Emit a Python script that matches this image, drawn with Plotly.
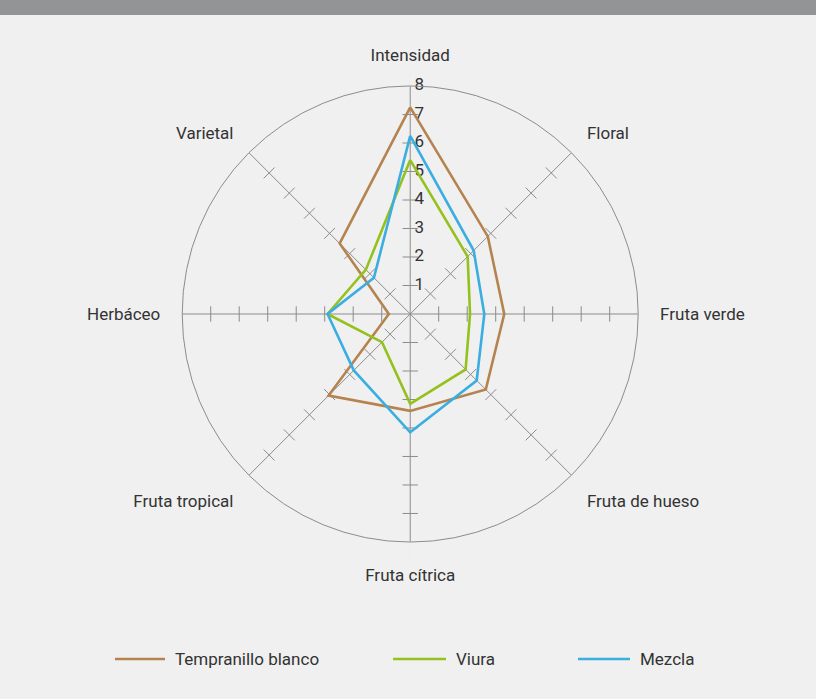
import plotly.graph_objects as go

axes = ["Intensidad", "Floral", "Fruta verde", "Fruta de hueso",
        "Fruta cítrica", "Fruta tropical", "Herbáceo", "Varietal"]
tempranillo = [7.25, 3.85, 3.3, 3.75, 3.4, 4.05, 0.75, 3.5]
viura = [5.4, 2.85, 2.1, 2.75, 3.15, 1.4, 2.9, 2.2]
mezcla = [6.25, 3.15, 2.6, 3.3, 4.15, 2.8, 2.9, 1.8]
tick_steps = [1, 2, 3, 4, 5, 6, 7]
scale_labels = [1, 2, 3, 4, 5, 6, 7, 8]

series = [("Tempranillo blanco", tempranillo, "#b5834f"),
          ("Viura", viura, "#95c11f"),
          ("Mezcla", mezcla, "#3aaee0")]

FONT = "Roboto, Liberation Sans, sans-serif"
BG = "#eff0ef"
GRID = "#8c8c8c"
TXT = "#333333"

fig = go.Figure()

# little cross ticks on every spoke
tick_r, tick_t, tick_a = [], [], []
for k, name in enumerate(axes):
    for s in tick_steps:
        tick_r.append(s)
        tick_t.append(name)
        tick_a.append(k * 45)
fig.add_trace(go.Scatterpolar(
    r=tick_r, theta=tick_t, mode="markers", hoverinfo="skip",
    marker=dict(symbol="line-ew", size=11, angle=tick_a,
                line=dict(width=1, color=GRID)),
    showlegend=False))

# scale numbers along the Intensidad spoke
fig.add_trace(go.Scatterpolar(
    r=scale_labels, theta=[axes[0]] * len(scale_labels), mode="text",
    text=["\u00a0" + str(v) for v in scale_labels], textposition="middle right",
    textfont=dict(size=17, color=TXT), hoverinfo="skip", showlegend=False))

for name, vals, col in series:
    fig.add_trace(go.Scatterpolar(
        r=vals + vals[:1], theta=axes + axes[:1], mode="lines", name=name,
        line=dict(color=col, width=2.6), showlegend=False))

fig.update_layout(
    width=816, height=699,
    paper_bgcolor=BG, plot_bgcolor=BG,
    margin=dict(l=0, r=0, t=0, b=0),
    font=dict(family=FONT, color=TXT, size=17),
    polar=dict(
        bgcolor=BG,
        domain=dict(x=[0.2233, 0.7821], y=[0.2246, 0.877]),
        radialaxis=dict(range=[0, 8], showgrid=False, showline=False,
                        showticklabels=False, ticks=""),
        angularaxis=dict(rotation=90, direction="clockwise",
                         categoryorder="array", categoryarray=axes,
                         showgrid=True, gridcolor=GRID, gridwidth=1,
                         showline=True, linecolor=GRID, linewidth=1,
                         ticks="outside", ticklen=18, tickcolor=BG,
                         tickfont=dict(size=17, color=TXT)),
    ),
)

# header band
fig.add_shape(type="rect", xref="paper", yref="paper", x0=0, x1=1,
              y0=1 - 15 / 699, y1=1, fillcolor="#939495", line_width=0)

# legend drawn by hand
leg_y = 1 - 659 / 699
leg = [(115, 165), (393, 446), (578, 630)]
for (x0, x1), (name, _, col) in zip(leg, series):
    fig.add_shape(type="line", xref="paper", yref="paper",
                  x0=x0 / 816, x1=x1 / 816, y0=leg_y, y1=leg_y,
                  line=dict(color=col, width=2.6))
    fig.add_annotation(xref="paper", yref="paper", x=(x1 + 8) / 816, y=leg_y,
                       text=name, showarrow=False, xanchor="left",
                       yanchor="middle", font=dict(size=17, color=TXT))

fig.write_html("out.html", config={"displayModeBar": False},
               post_script="document.body.style.margin='0';"
                           "document.body.style.overflow='hidden';")
